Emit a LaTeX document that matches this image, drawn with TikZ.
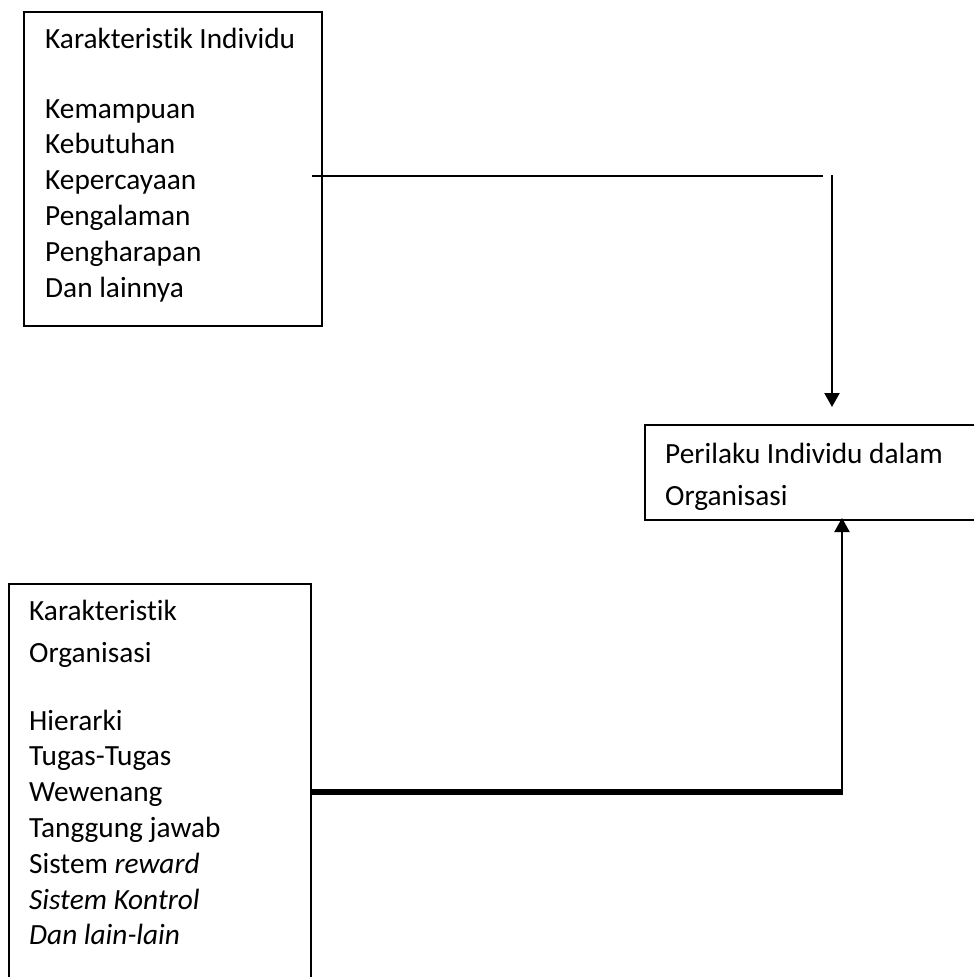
\documentclass[tikz,border=0pt]{standalone}
\usepackage{fontspec}
\setmainfont{Carlito}[Ligatures=CommonOff]
\usetikzlibrary{arrows.meta}

\tikzset{
  box/.style={draw=black, line width=1.6pt, rectangle, inner sep=0pt, anchor=north west},
  txt/.style={anchor=base west, inner sep=0pt, font=\fontsize{29.3pt}{35pt}\selectfont},
  thinlink/.style={line width=1.6pt},
  feed/.style={line width=2.2pt, -{Triangle[width=15pt,length=14pt]}},
  thicklink/.style={line width=6pt},
}

\begin{document}
\begin{tikzpicture}[x=1pt, y=-1pt]
  \useasboundingbox (0,0) rectangle (974,977);
  \clip (0,0) rectangle (974,977);

  % frames
  \node[box, minimum width=298pt, minimum height=314pt] (indiv) at (23,11) {};
  \node[box, minimum width=302pt, minimum height=420pt] (org) at (8,583) {};
  \node[box, minimum width=345pt, minimum height=95pt] (behav) at (644,424) {};

  % individual characteristics
  \node[txt] (i0) at (45,48)    {Karakteristik Individu};
  \node[txt] (i1) at (45,118)   {Kemampuan};
  \node[txt] (i2) at (45,153.8) {Kebutuhan};
  \node[txt] (i3) at (45,189.6) {Kepercayaan};
  \node[txt] (i4) at (45,225.4) {Pengalaman};
  \node[txt] (i5) at (45,261.2) {Pengharapan};
  \node[txt] (i6) at (45,297)   {Dan lainnya};

  % organisational characteristics
  \node[txt] (o0) at (29,620)   {Karakteristik};
  \node[txt] (o1) at (29,662)   {Organisasi};
  \node[txt] (o2) at (29,730)   {Hierarki};
  \node[txt] (o3) at (29,765.8) {Tugas-Tugas};
  \node[txt] (o4) at (29,801.6) {Wewenang};
  \node[txt] (o5) at (29,837.4) {Tanggung jawab};
  \node[txt] (o6) at (29,873.2) {Sistem \textit{reward}};
  \node[txt] (o7) at (29,909)   {\textit{Sistem Kontrol}};
  \node[txt] (o8) at (29,944.8) {\textit{Dan lain-lain}};

  % individual behaviour in the organisation
  \node[txt] (b0) at (665,463) {Perilaku Individu dalam};
  \node[txt] (b1) at (665,505) {Organisasi};

  % upper connector
  \coordinate (u1) at (312,176);
  \coordinate (u2) at (823,176);
  \coordinate (u3) at (832,175);
  \coordinate (u4) at (832,407);
  \draw[thinlink] (u1) -- (u2);
  \draw[feed] (u3) -- (u4);

  % lower connector
  \coordinate (l1) at (310,792);
  \coordinate (l2) at (843,792);
  \coordinate (l3) at (842,789);
  \coordinate (l4) at (842,518);
  \draw[thicklink] (l1) -- (l2);
  \draw[feed] (l3) -- (l4);
\end{tikzpicture}
\end{document}
